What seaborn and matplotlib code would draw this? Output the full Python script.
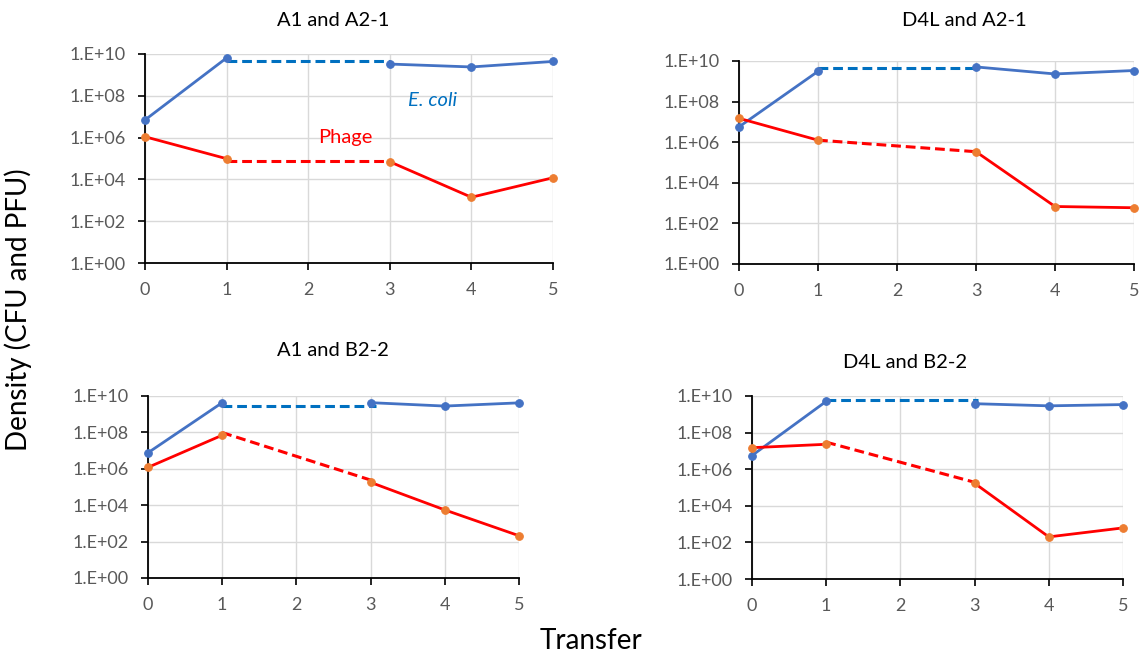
import numpy as np
import pandas as pd
import matplotlib
matplotlib.use("Agg")
import matplotlib.pyplot as plt
import seaborn as sns
from matplotlib.ticker import FixedLocator, FuncFormatter, NullLocator

sns.set_theme(style="white")
plt.rcParams['font.family'] = ['Lato', 'DejaVu Sans']

# ---------------- data ----------------
transfer = [0, 1, 3, 4, 5]
titles = ["A1 and A2-1", "D4L and A2-1", "A1 and B2-2", "D4L and B2-2"]

ecoli_A1_A21 = [7.0e6, 6.5e9, 3.3e9, 2.4e9, 4.4e9]
phage_A1_A21 = [1.1e6, 9.8e4, 7.0e4, 1.4e3, 1.2e4]
ecoli_gap_A1_A21 = [4.8e9, 4.8e9]
phage_gap_A1_A21 = [8.0e4, 8.0e4]
gapx_A1_A21 = [1, 3]

ecoli_D4L_A21 = [5.7e6, 3.1e9, 5.1e9, 2.3e9, 3.4e9]
phage_D4L_A21 = [1.5e7, 1.26e6, 3.4e5, 680, 590]
ecoli_gap_D4L_A21 = [4.7e9, 4.7e9]
phage_gap_D4L_A21 = [1.26e6, 3.4e5]
gapx_D4L_A21 = [1, 3]

ecoli_A1_B22 = [7.6e6, 4.3e9, 4.3e9, 2.8e9, 4.2e9]
phage_A1_B22 = [1.2e6, 7.0e7, 1.8e5, 5.5e3, 210]
ecoli_gap_A1_B22 = [2.7e9, 2.7e9]
phage_gap_A1_B22 = [9.8e7, 1.95e5]
gapx_A1_B22 = [1, 3.07]

ecoli_D4L_B22 = [5.6e6, 5.1e9, 3.8e9, 2.9e9, 3.4e9]
phage_D4L_B22 = [1.5e7, 2.3e7, 1.7e5, 200, 620]
ecoli_gap_D4L_B22 = [6.0e9, 6.0e9]
phage_gap_D4L_B22 = [3.0e7, 1.7e5]
gapx_D4L_B22 = [1, 3.05]

yticks = [1e0, 1e2, 1e4, 1e6, 1e8, 1e10]
xticks = [0, 1, 2, 3, 4, 5]

panels = [
    (ecoli_A1_A21, phage_A1_A21, ecoli_gap_A1_A21, phage_gap_A1_A21, gapx_A1_A21),
    (ecoli_D4L_A21, phage_D4L_A21, ecoli_gap_D4L_A21, phage_gap_D4L_A21, gapx_D4L_A21),
    (ecoli_A1_B22, phage_A1_B22, ecoli_gap_A1_B22, phage_gap_A1_B22, gapx_A1_B22),
    (ecoli_D4L_B22, phage_D4L_B22, ecoli_gap_D4L_B22, phage_gap_D4L_B22, gapx_D4L_B22),
]

# ---------------- styling ----------------
BLUE = "#4472C4"
BLUE_DASH = "#0070C0"
RED = "#FF0000"
ORANGE = "#ED7D31"
TICK_COLOR = "#595959"
GRID = "#D9D9D9"

W, H = 1141, 658
fig = plt.figure(figsize=(W / 100, H / 100), dpi=100)

# axes boxes in pixels: left, right, top, bottom
boxes = [
    (145, 553, 54, 263),
    (739, 1134, 61, 264),
    (148, 519, 396, 578),
    (752, 1123, 396, 579),
]
title_pos = [(333, 21), (964, 21), (333, 351), (905, 362)]

fmt = FuncFormatter(lambda v, p: "1.E+%02d" % int(round(np.log10(v))))

for i, (box, data) in enumerate(zip(boxes, panels)):
    l, r, t, b = box
    ax = fig.add_axes([l / W, 1 - b / H, (r - l) / W, (b - t) / H])
    ecoli, phage, egap, pgap, gx = data

    df = pd.DataFrame({
        "Transfer": transfer * 2,
        "Density": ecoli + phage,
        "organism": ["E. coli"] * 5 + ["Phage"] * 5,
        "segment": [0, 0, 1, 1, 1] * 2,
    })
    gap = pd.DataFrame({
        "Transfer": list(gx) * 2,
        "Density": egap + pgap,
        "organism": ["E. coli"] * 2 + ["Phage"] * 2,
    })

    # dashed bridging segments
    sns.lineplot(data=gap[gap.organism == "E. coli"], x="Transfer", y="Density",
                 color=BLUE_DASH, lw=2.2, ax=ax, estimator=None,
                 dashes=False, zorder=2)
    ax.lines[-1].set_linestyle((0, (3.2, 1.6)))
    sns.lineplot(data=gap[gap.organism == "Phage"], x="Transfer", y="Density",
                 color=RED, lw=2.2, ax=ax, estimator=None,
                 dashes=False, zorder=2)
    ax.lines[-1].set_linestyle((0, (3.2, 1.6)))

    # solid segments with markers
    sns.lineplot(data=df[df.organism == "E. coli"], x="Transfer", y="Density",
                 units="segment", estimator=None, color=BLUE, lw=2.0,
                 marker="o", markersize=5.5, markerfacecolor=BLUE,
                 markeredgecolor=BLUE, ax=ax, zorder=3)
    sns.lineplot(data=df[df.organism == "Phage"], x="Transfer", y="Density",
                 units="segment", estimator=None, color=RED, lw=2.0,
                 marker="o", markersize=5.5, markerfacecolor=ORANGE,
                 markeredgecolor=ORANGE, ax=ax, zorder=3)

    ax.set_yscale("log")
    ax.set_ylim(1, 1e10)
    ax.set_xlim(0, 5)
    ax.yaxis.set_major_locator(FixedLocator(yticks))
    ax.yaxis.set_minor_locator(NullLocator())
    ax.yaxis.set_major_formatter(fmt)
    ax.set_xticks(xticks)
    ax.set_xticklabels([str(x) for x in xticks])
    ax.grid(True, color=GRID, lw=1.0, zorder=0)
    ax.set_axisbelow(True)
    for s in ["top", "right"]:
        ax.spines[s].set_visible(False)
    for s in ["left", "bottom"]:
        ax.spines[s].set_color("black")
        ax.spines[s].set_linewidth(1.3)
    ax.tick_params(axis="y", direction="out", length=5, width=1.2, color="black",
                   pad=9, labelsize=13, labelcolor=TICK_COLOR, left=True)
    ax.tick_params(axis="x", direction="out", length=5, width=1.2, color="black",
                   pad=9, labelsize=13, labelcolor=TICK_COLOR, bottom=True)
    ax.set_xlabel("")
    ax.set_ylabel("")
    ax.patch.set_alpha(0)
    for line in ax.lines:
        line.set_clip_on(False)

    tx, ty = title_pos[i]
    fig.text(tx / W, 1 - ty / H, titles[i], ha="center", va="center",
             fontsize=14.5, color="black")

    if i == 0:
        ax.text(433 / W, 1 - 101 / H, "E. coli", transform=fig.transFigure,
                ha="center", va="center", fontsize=14.5, style="italic",
                color=BLUE_DASH)
        ax.text(345 / W, 1 - 137 / H, "Phage", transform=fig.transFigure,
                ha="center", va="center", fontsize=14.5, color=RED)

fig.text(18 / W, 1 - 310 / H, "Density (CFU and PFU)", rotation=90,
         ha="center", va="center", fontsize=20, color="black")
fig.text(591 / W, 1 - 641 / H, "Transfer", ha="center", va="center",
         fontsize=20, color="black")

fig.savefig("out.png", dpi=100)
